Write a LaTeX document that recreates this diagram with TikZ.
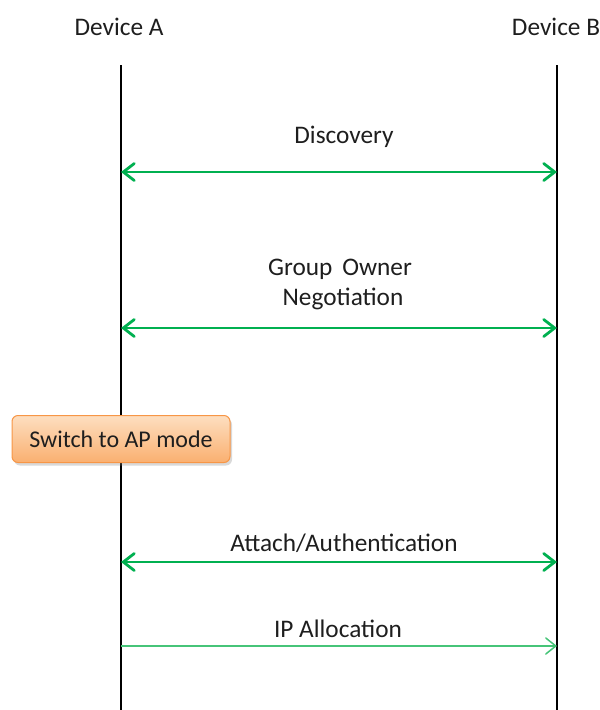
\documentclass[tikz,border=0pt]{standalone}
\usepackage{fontspec}
\setmainfont{Carlito}
\usetikzlibrary{arrows.meta,shadows}
\definecolor{msggreen}{RGB}{0,176,80}
\definecolor{lightgreen}{RGB}{70,196,120}
\definecolor{boxtop}{RGB}{253,222,192}
\definecolor{boxbot}{RGB}{250,176,112}
\definecolor{boxedge}{RGB}{247,150,70}
\definecolor{txt}{RGB}{30,30,30}
\begin{document}
\begin{tikzpicture}[x=1pt,y=-1pt,
  lbl/.style={font=\fontsize{25.3}{30}\selectfont, text=txt, inner sep=0pt},
  life/.style={line width=1.3pt, black},
  msg/.style={line width=2.8pt, msggreen, line cap=round,
    {Straight Barb[length=11pt,width=17pt,line cap=round]}-{Straight Barb[length=11pt,width=17pt,line cap=round]}},
  thinmsg/.style={line width=1.5pt, lightgreen,
    -{Straight Barb[length=10pt,width=16pt,line cap=round]}},
  modebox/.style={draw=boxedge, line width=1pt, rounded corners=6pt,
    top color=boxtop, bottom color=boxbot, minimum width=218pt, minimum height=47pt,
    font=\fontsize{24}{28}\selectfont, text=txt,
    drop shadow={shadow xshift=2pt, shadow yshift=-3pt, opacity=0.3}}]
\useasboundingbox (0,0) rectangle (600,710);

% participants
\node[lbl] (devA) at (119,27) {Device A};
\node[lbl] (devB) at (556,27) {Device B};
\coordinate (aTop) at (121,65);
\coordinate (aBot) at (121,710);
\coordinate (bTop) at (557,65);
\coordinate (bBot) at (557,710);
\draw[life] (aTop) -- (aBot);
\draw[life] (bTop) -- (bBot);

% message anchors on the lifelines
\coordinate (a1) at (121,172); \coordinate (b1) at (557,172);
\coordinate (a2) at (121,328); \coordinate (b2) at (557,328);
\coordinate (a3) at (121,562); \coordinate (b3) at (557,562);
\coordinate (a4) at (121,646); \coordinate (b4) at (557,646);

% messages
\draw[msg] (a1) -- (b1);
\node[lbl] (disc) at (344,137) {Discovery};

\draw[msg] (a2) -- (b2);
\node[lbl] (go1) at (340,269) {Group\, Owner};
\node[lbl] (go2) at (343,299) {Negotiation};

\node[modebox] (ap) at (121,439) {Switch to AP mode};

\draw[msg] (a3) -- (b3);
\node[lbl] (auth) at (344,543) {Attach/Authentication};

\draw[thinmsg] (a4) -- (b4);
\node[lbl] (ip) at (338,629) {IP Allocation};
\end{tikzpicture}
\end{document}
